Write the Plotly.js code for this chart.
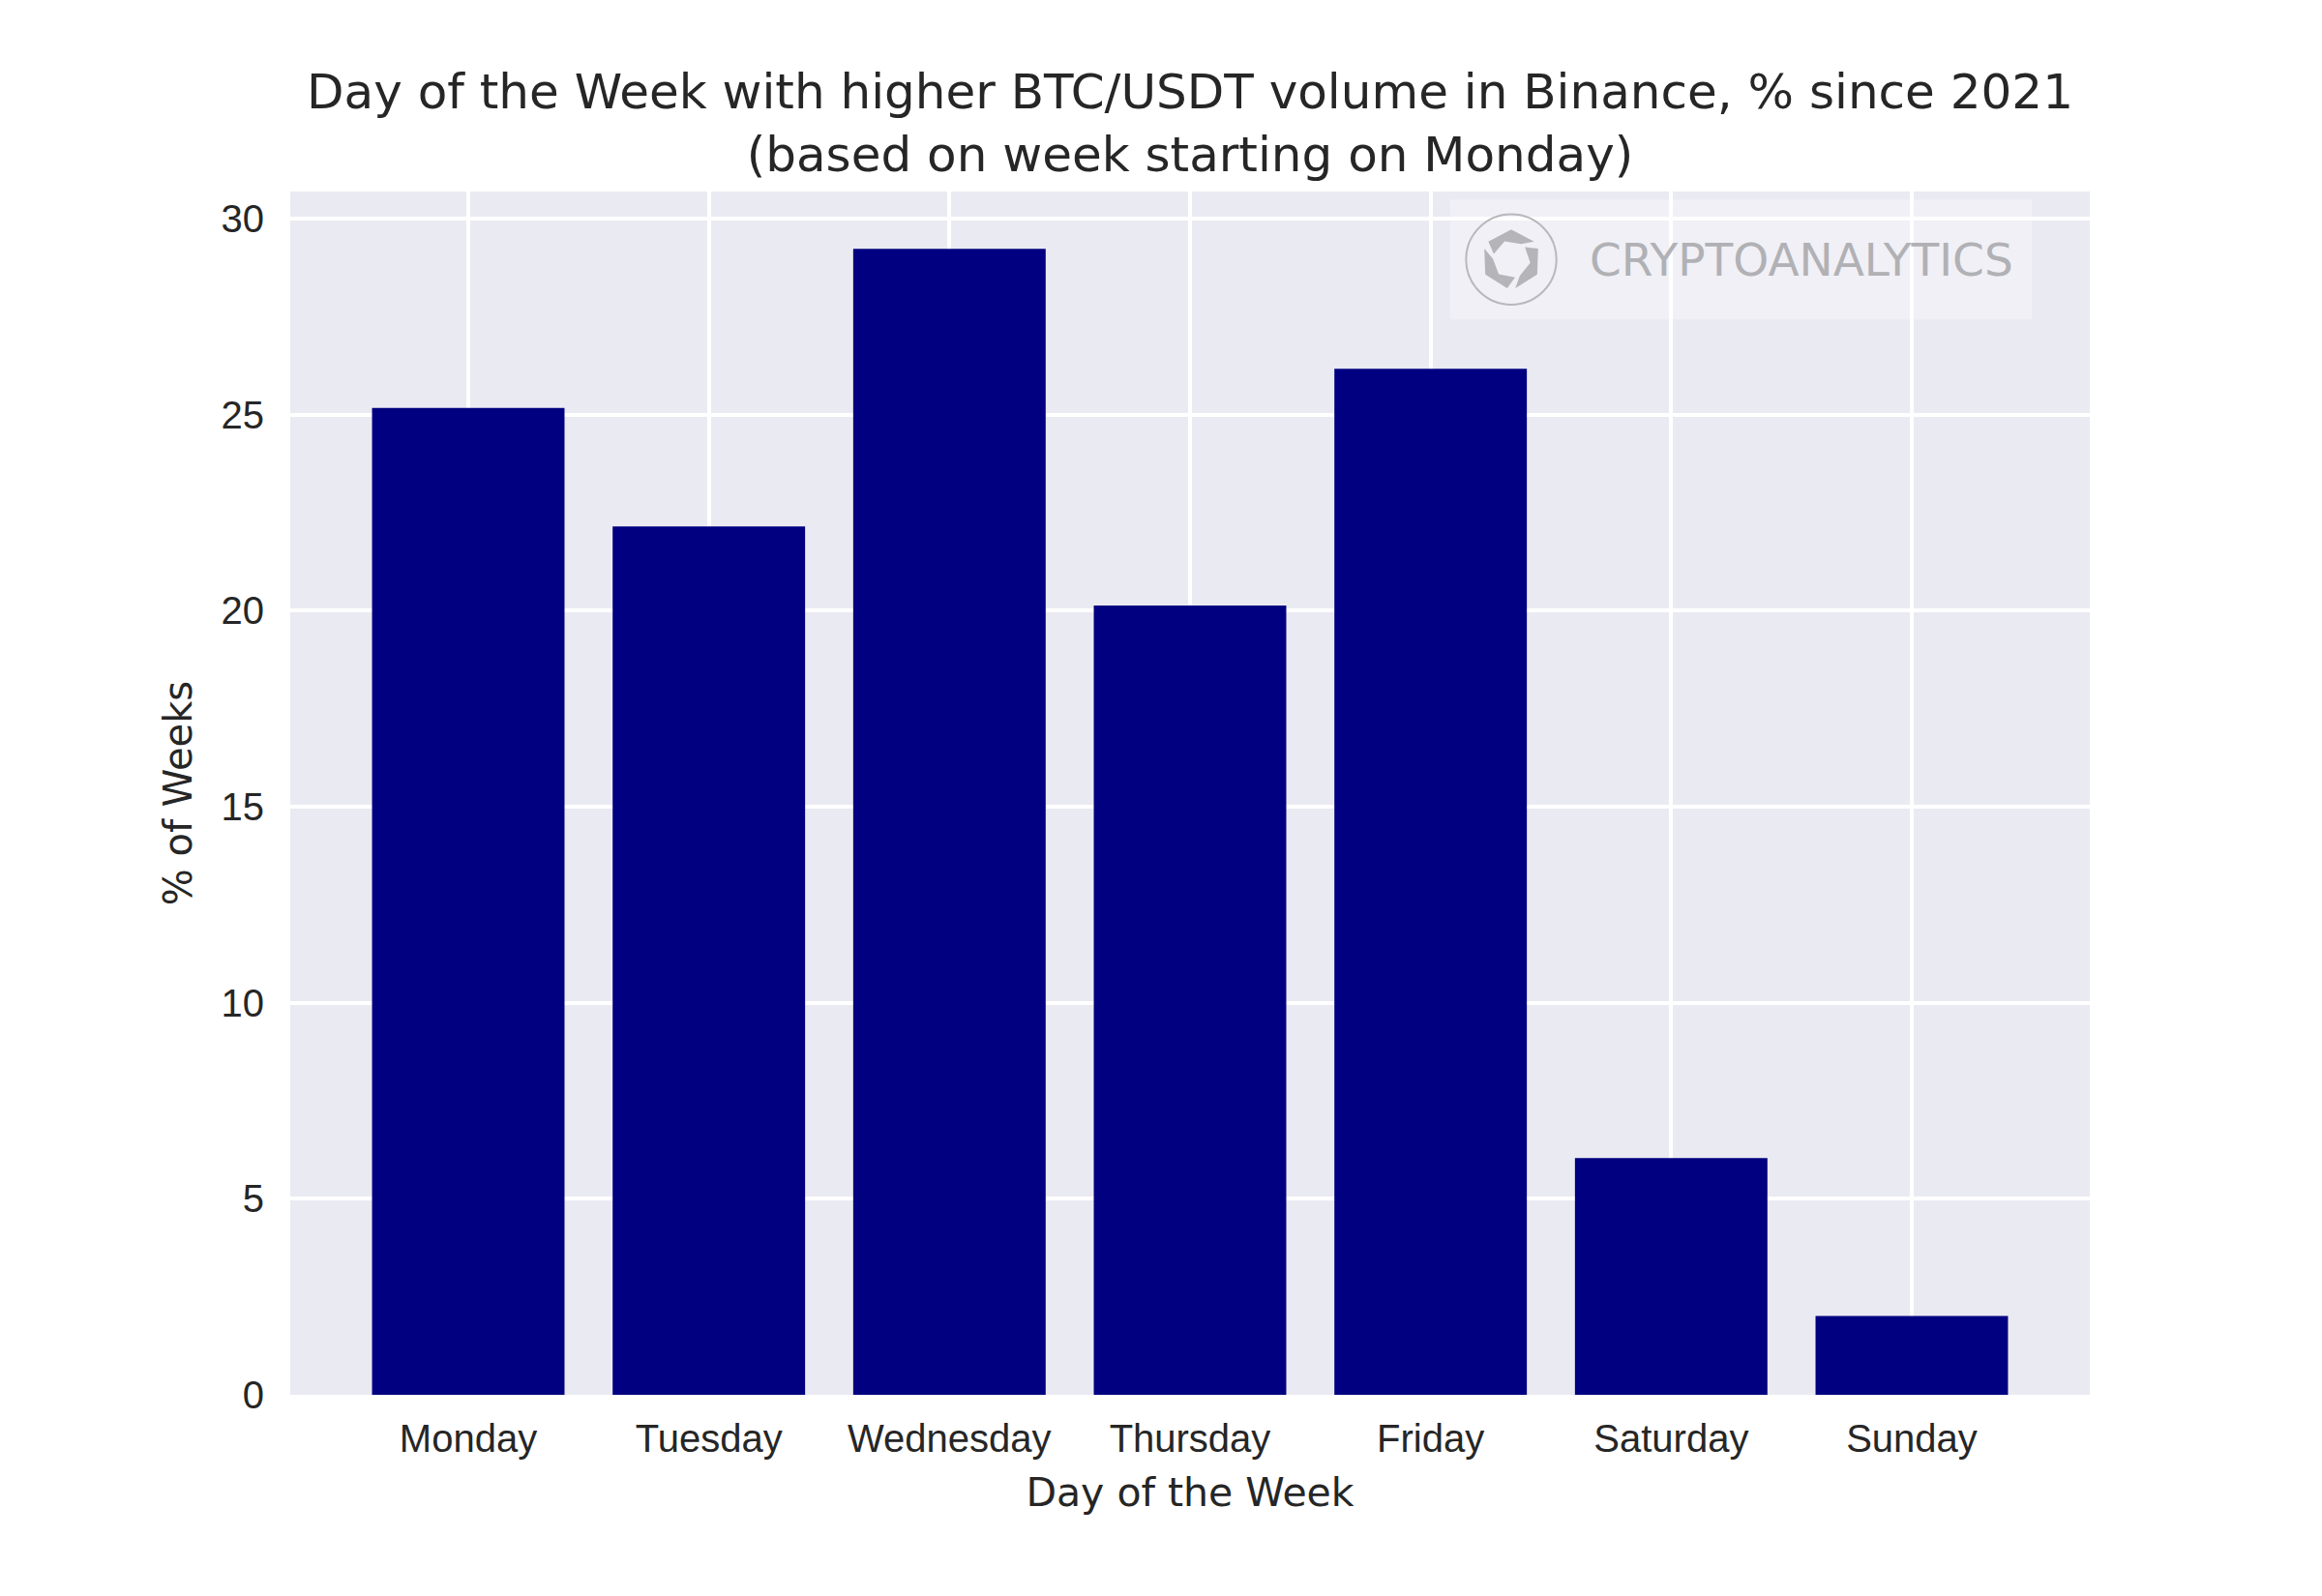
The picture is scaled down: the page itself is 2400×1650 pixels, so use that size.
<!DOCTYPE html>
<html>
<head>
<meta charset="utf-8">
<script src="https://cdn.plot.ly/plotly-3.0.1.min.js"></script>
<style>
  html, body { margin: 0; padding: 0; background: #ffffff; }
  #chart { width: 2400px; height: 1650px; }
</style>
</head>
<body>
<div id="chart"></div>
<script>
// ---- data ----
const days = ["Monday", "Tuesday", "Wednesday", "Thursday", "Friday", "Saturday", "Sunday"];
const pctWeeks = [25.17, 22.15, 29.23, 20.13, 26.17, 6.04, 2.01];
const yTickVals = [0, 5, 10, 15, 20, 25, 30];
const yTickText = ["0", "5", "10", "15", "20", "25", "30"];

// ---- layout geometry (pixels) ----
const W = 2400, H = 1650;
const L = 300, R = 2160, T = 197.7, B = 1442.5;
const px = x => (x - L) / (R - L);
const py = y => (B - y) / (B - T);

// watermark logo shapes
const cx = 1562, cy = 268;
function hexPt(rad, angDeg) {
  const a = angDeg * Math.PI / 180;
  return [cx + rad * Math.cos(a), cy - rad * Math.sin(a)];
}
function pathFrom(pts) {
  return "M " + pts.map(p => px(p[0]).toFixed(5) + "," + py(p[1]).toFixed(5)).join(" L ") + " Z";
}
const logoShapes = [];
for (let k = 0; k < 3; k++) {
  const a0 = 30 + k * 120 + 8;
  const outer = [hexPt(30, a0), hexPt(31, a0 + 52), hexPt(30, a0 + 104)];
  const inner = [hexPt(19, a0 + 124), hexPt(20, a0 + 72), hexPt(19, a0 + 20)];
  logoShapes.push({
    type: "path", xref: "paper", yref: "paper", layer: "above",
    path: pathFrom(outer.concat(inner)),
    fillcolor: "#b5b5b9", line: { width: 0 }
  });
}

const shapes = [
  { type: "rect", xref: "paper", yref: "paper", layer: "above",
    x0: px(1499), x1: px(2100), y0: py(330), y1: py(206),
    fillcolor: "rgba(255,255,255,0.3)", line: { width: 0 } },
  { type: "circle", xref: "paper", yref: "paper", layer: "above",
    x0: px(cx - 46.7), x1: px(cx + 46.7), y0: py(cy + 46.7), y1: py(cy - 46.7),
    line: { color: "#b8b8bc", width: 2 }, fillcolor: "rgba(0,0,0,0)" }
].concat(logoShapes);

const trace = {
  type: "bar",
  x: days,
  y: pctWeeks,
  width: 0.8,
  marker: { color: "#000080", line: { width: 0 } },
  hoverinfo: "x+y"
};

const layout = {
  width: W, height: H,
  margin: { l: L, r: W - R, t: T, b: H - B, pad: 0 },
  paper_bgcolor: "#ffffff",
  plot_bgcolor: "#EAEAF2",
  showlegend: false,
  title: {
    text: "Day of the Week with higher BTC/USDT volume in Binance, % since 2021<br>(based on week starting on Monday)",
    font: { family: "DejaVu Sans", size: 50, color: "#262626" },
    x: 0.5, xref: "paper", xanchor: "center",
    y: 1 - 112 / H, yref: "container", yanchor: "top"
  },
  xaxis: {
    type: "category",
    range: [-0.74, 6.74],
    showgrid: true, gridcolor: "#ffffff", gridwidth: 4,
    zeroline: false, showline: false, ticks: "",
    ticklabelstandoff: 18,
    tickfont: { family: "Liberation Sans", size: 40, color: "#262626" },
    title: { text: "Day of the Week", font: { family: "DejaVu Sans", size: 41, color: "#262626" }, standoff: 20 },
    automargin: false, fixedrange: true
  },
  yaxis: {
    range: [0, 30.69],
    tickmode: "array", tickvals: yTickVals, ticktext: yTickText,
    showgrid: true, gridcolor: "#ffffff", gridwidth: 4,
    zeroline: false, showline: false, ticks: "",
    ticklabelstandoff: 26,
    tickfont: { family: "Liberation Sans", size: 40, color: "#262626" },
    title: { text: "% of Weeks", font: { family: "DejaVu Sans", size: 40, color: "#262626" }, standoff: 17 },
    automargin: false, fixedrange: true
  },
  shapes: shapes,
  annotations: [
    { text: "CRYPTOANALYTICS", xref: "paper", yref: "paper",
      x: px(1862), y: py(268), xanchor: "center", yanchor: "middle",
      showarrow: false,
      font: { family: "DejaVu Sans", size: 47, color: "#b1b1b5" } }
  ]
};

Plotly.newPlot("chart", [trace], layout, { displayModeBar: false, staticPlot: true });
</script>
</body>
</html>
